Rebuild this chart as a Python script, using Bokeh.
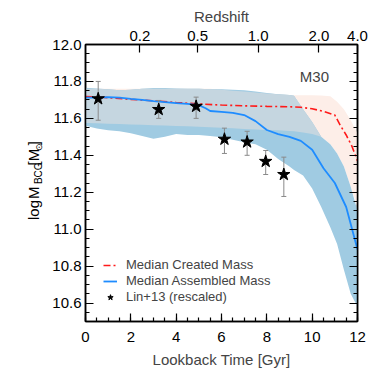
import numpy as np
from bokeh.plotting import figure
from bokeh.layouts import row
from bokeh.models import (LinearAxis, Range1d, FixedTicker, SingleIntervalTicker,
                          NumeralTickFormatter, Legend, LegendItem, Label)
from bokeh.embed import file_html
from bokeh.resources import INLINE
from bokeh.core.properties import value

# ---- data ----
band_t = [0, 0.5, 1, 1.5, 2, 2.5, 3, 3.5, 4, 4.5, 5, 5.5, 6, 6.5, 7, 7.5, 8, 8.5,
          9, 9.2, 9.6, 10, 10.4, 10.8, 11.1, 11.4, 11.7, 12]
assembled_hi = [11.766, 11.762, 11.758, 11.752, 11.755, 11.760, 11.764, 11.765, 11.762,
                11.760, 11.760, 11.758, 11.757, 11.755, 11.752, 11.746, 11.738, 11.730,
                11.726, 11.722, 11.65, 11.58, 11.50, 11.46, 11.41, 11.34, 11.23, 11.10]
assembled_lo = [11.56, 11.545, 11.535, 11.53, 11.52, 11.505, 11.49, 11.50, 11.515, 11.51,
                11.51, 11.505, 11.498, 11.484, 11.471, 11.46, 11.43, 11.38, 11.34, 11.32,
                11.29, 11.22, 11.12, 11.01, 10.92, 10.78, 10.65, 10.58]
created_hi = [11.76, 11.76, 11.76, 11.76, 11.76, 11.76, 11.76, 11.76, 11.76, 11.76, 11.76,
              11.76, 11.755, 11.75, 11.745, 11.74, 11.735, 11.73, 11.726, 11.725, 11.725,
              11.725, 11.724, 11.72, 11.69, 11.65, 11.59, 11.52]
created_lo = [11.575, 11.573, 11.571, 11.569, 11.567, 11.565, 11.563, 11.561, 11.559,
              11.557, 11.555, 11.552, 11.549, 11.546, 11.543, 11.540, 11.537, 11.535,
              11.532, 11.530, 11.524, 11.516, 11.50, 11.46, 11.41, 11.34, 11.23, 11.12]

assembled_t = [0, 0.5, 1, 1.5, 2, 2.5, 3, 3.5, 4, 4.5, 5, 5.3, 5.5, 6, 6.5, 7, 7.5, 8,
               8.5, 9, 9.5, 10, 10.5, 11, 11.5, 12]
assembled_med = [11.712, 11.712, 11.715, 11.712, 11.705, 11.700, 11.693, 11.688, 11.683,
                 11.678, 11.672, 11.655, 11.640, 11.635, 11.630, 11.618, 11.585, 11.537,
                 11.515, 11.500, 11.478, 11.43, 11.33, 11.25, 11.12, 10.89]

created_t = [0, 1, 2, 3, 4, 5, 6, 7, 8, 9, 9.5, 10, 10.5, 11, 11.25, 11.5, 11.75, 12]
created_med = [11.718, 11.712, 11.703, 11.695, 11.686, 11.678, 11.672, 11.668, 11.665,
               11.663, 11.660, 11.652, 11.638, 11.618, 11.56, 11.51, 11.45, 11.37]

lin_t = [0.56, 3.23, 4.88, 6.13, 7.13, 7.95, 8.75]
lin_m = [11.706, 11.648, 11.665, 11.487, 11.472, 11.367, 11.296]
lin_lo = [11.59, 11.60, 11.60, 11.41, 11.40, 11.296, 11.177]
lin_hi = [11.80, 11.697, 11.715, 11.547, 11.53, 11.426, 11.39]

z_labels = ["0.2", "0.5", "1.0", "2.0", "4.0"]
z_lookback = [2.4, 4.95, 7.62, 10.3, 12.0]

ylabel_parts = ["log", "M", "BCG", "[M", "\u2299", "]"]

FONT = "Liberation Sans"
FW, FH = 272, 277
X0, X1, Y0, Y1 = 0, 12, 10.5, 12.0
LW = 44            # width of the side strip holding the y label
TOP, BOT = 44, 50
H = TOP + FH + BOT

p = figure(frame_width=FW, frame_height=FH, x_range=Range1d(X0, X1),
           y_range=Range1d(Y0, Y1), output_backend="svg", toolbar_location=None,
           min_border_left=85 - LW, min_border_right=20, min_border_top=TOP,
           min_border_bottom=BOT)
p.xgrid.visible = False
p.ygrid.visible = False
p.outline_line_color = "black"
p.outline_line_width = 1.5

# bands
ov_lo = np.maximum(assembled_lo, created_lo)
ov_hi = np.maximum(np.minimum(assembled_hi, created_hi), ov_lo)
p.varea(x=band_t, y1=created_lo, y2=created_hi, fill_color="#FDEEE8")
p.varea(x=band_t, y1=assembled_lo, y2=assembled_hi, fill_color="#A0CBE2")
p.varea(x=band_t, y1=ov_lo, y2=ov_hi, fill_color="#C5D6E0")

r_created = p.line(created_t, created_med, line_color="#FF1A1A", line_width=1.6,
                   line_dash="7 3 2 3")
r_assembled = p.line(assembled_t, assembled_med, line_color="#1E8CFF", line_width=1.8)

# Lin+13 points
p.segment(x0=lin_t, y0=lin_lo, x1=lin_t, y1=lin_hi, line_color="#8A8A8A", line_width=1)
p.scatter(lin_t, lin_hi, marker="dash", size=5, line_color="#8A8A8A")
p.scatter(lin_t, lin_lo, marker="dash", size=5, line_color="#8A8A8A")
r_lin = p.scatter(lin_t, lin_m, marker="star", size=13, fill_color="black",
                  line_color="black")

# axes
def style(ax, fs="15px"):
    ax.axis_line_width = 1.5
    ax.major_tick_in = 8
    ax.major_tick_out = 0
    ax.minor_tick_in = 4
    ax.minor_tick_out = 0
    ax.major_tick_line_width = 1.2
    ax.minor_tick_line_width = 1.2
    ax.major_label_text_font = FONT
    ax.major_label_text_font_size = fs
    ax.major_label_text_color = "black"
    ax.axis_label_text_font = FONT
    ax.axis_label_text_font_size = fs
    ax.axis_label_text_font_style = "normal"

xt = SingleIntervalTicker(interval=2, num_minor_ticks=4)
yt = SingleIntervalTicker(interval=0.2, num_minor_ticks=4)
p.xaxis.ticker = xt
p.yaxis.ticker = yt
p.yaxis.formatter = NumeralTickFormatter(format="0.0")
p.xaxis.axis_label = "Lookback Time [Gyr]"
for ax in p.xaxis + p.yaxis:
    style(ax)
p.xaxis.major_label_standoff = 10
p.xaxis.axis_label_standoff = 6
p.yaxis.major_label_standoff = 4

ra = LinearAxis(ticker=yt)
style(ra)
ra.major_label_text_color = None
ra.major_label_text_font_size = "1px"
ra.major_label_standoff = 0
p.add_layout(ra, "right")

ta = LinearAxis(ticker=FixedTicker(ticks=z_lookback),
                major_label_overrides={t: s for t, s in zip(z_lookback, z_labels)},
                axis_label="Redshift")
style(ta)
ta.major_label_standoff = 4
ta.axis_label_standoff = 3
p.add_layout(ta, "above")

# M30 tag
p.add_layout(Label(x=10.1, y=11.827, text="M30", text_font=FONT, text_font_size="15px",
                   text_align="center", text_baseline="middle"))

legend = Legend(items=[LegendItem(label="Median Created Mass", renderers=[r_created]),
                       LegendItem(label="Median Assembled Mass", renderers=[r_assembled]),
                       LegendItem(label="Lin+13 (rescaled)", renderers=[r_lin])],
                location=(18, 17), background_fill_alpha=0, border_line_alpha=0,
                label_text_font=FONT, label_text_font_size="13px", glyph_width=14,
                glyph_height=14, label_height=14, spacing=1, padding=0, margin=0,
                label_standoff=9)
p.add_layout(legend)

# side strip with the rotated y-axis label (pixel coordinates, y up from bottom)
s = figure(width=LW, height=H, x_range=Range1d(0, LW), y_range=Range1d(0, H),
           output_backend="svg", toolbar_location=None, x_axis_type=None,
           y_axis_type=None, min_border=0, title=None)
s.outline_line_color = None
s.xgrid.visible = False
s.ygrid.visible = False
lab_x = [33, 33, 38, 33, 38, 33]
lab_y = [H - 235, H - 207, H - 187, H - 162, H - 143, H - 135]
lab_fs = ["15px", "15px", "10px", "15px", "9px", "15px"]
for t, xx, yy, fs in zip(ylabel_parts, lab_x, lab_y, lab_fs):
    s.text(x=[xx], y=[yy], text=[t], angle=np.pi / 2, text_font=value(FONT),
           text_font_size=fs, text_align="left", text_baseline="middle",
           text_color="black")

layout = row(s, p, spacing=0)
open("out.html", "w").write(file_html(layout, INLINE))
